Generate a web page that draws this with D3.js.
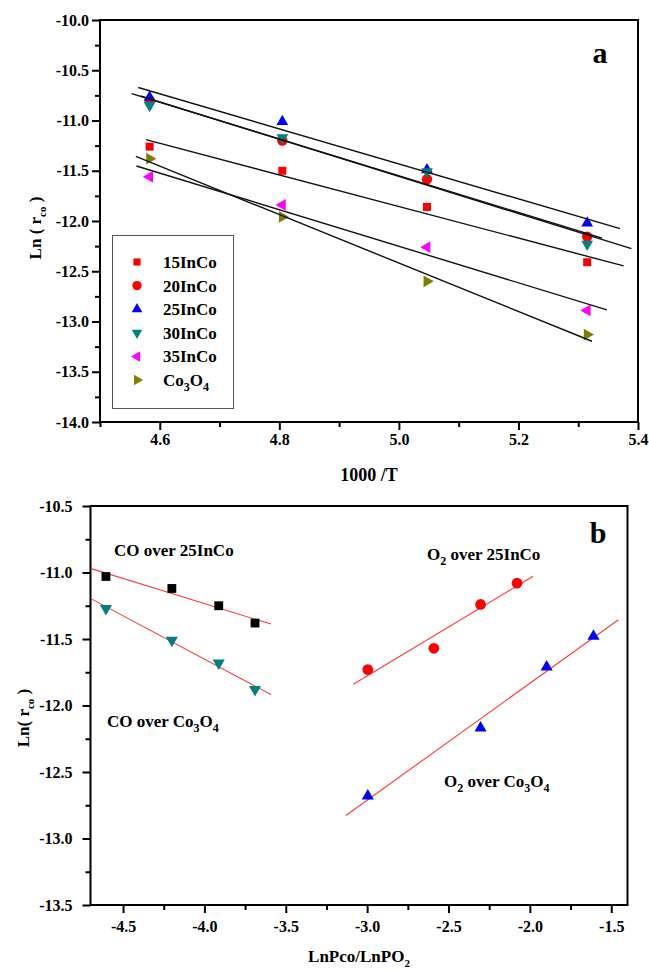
<!DOCTYPE html>
<html>
<head>
<meta charset="utf-8">
<script src="https://cdn.jsdelivr.net/npm/d3@7/dist/d3.min.js"></script>
<style>
  body { margin: 0; background: #fff; }
  text { font-family: "Liberation Serif", "Times New Roman", serif; font-weight: bold; fill: #000; }
</style>
</head>
<body>
<svg id="chart" width="649" height="971"></svg>
<script>
// ---- panel a : Arrhenius plot ----
var invT = [4.583, 4.805, 5.047, 5.315];
var ln15InCo = [-11.26, -11.50, -11.86, -12.41];
var ln20InCo = [-10.80, -11.20, -11.585, -12.155];
var ln25InCo = [-10.77, -11.01, -11.49, -12.02];
var ln30InCo = [-10.85, -11.17, -11.51, -12.23];
var ln35InCo = [-11.56, -11.84, -12.26, -12.89];
var lnCo3O4 = [-11.38, -11.96, -12.60, -13.13];
// x range over which each fit line is drawn
var fitFromA = [4.577, 4.553, 4.564, 4.568, 4.561, 4.560];
var fitToA = [5.376, 5.340, 5.370, 5.389, 5.348, 5.323];
var xTicksA = [4.6, 4.8, 5.0, 5.2, 5.4];
var yTicksA = [-14.0, -13.5, -13.0, -12.5, -12.0, -11.5, -11.0, -10.5, -10.0];

// ---- panel b : reaction orders ----
var lnPco = [-4.605, -4.200, -3.912, -3.689];
var lnPo2In = [-2.996, -2.590, -2.303, -2.079];
var lnPo2Co = [-2.996, -2.303, -1.897, -1.609];
var coOver25InCo = [-11.03, -11.12, -11.25, -11.38];
var coOverCo3O4 = [-11.27, -11.51, -11.68, -11.88];
var o2Over25InCo = [-11.73, -11.57, -11.24, -11.08];
var o2OverCo3O4 = [-12.68, -12.17, -11.71, -11.48];
var fitFromB = [-4.695, -4.695, -3.085, -3.131];
var fitToB = [-3.591, -3.591, -1.980, -1.456];
var xTicksB = [-4.5, -4.0, -3.5, -3.0, -2.5, -2.0, -1.5];
var yTicksB = [-13.5, -13.0, -12.5, -12.0, -11.5, -11.0, -10.5];

var svg = d3.select('#chart');
var fmt = d => d.toFixed(1);

function symbolPath(kind, size) {
  var types = {
    square: [d3.symbolSquare, 0], circle: [d3.symbolCircle, 0],
    up: [d3.symbolTriangle, 0], down: [d3.symbolTriangle, 180],
    left: [d3.symbolTriangle, -90], right: [d3.symbolTriangle, 90]
  };
  return { d: d3.symbol().type(types[kind][0]).size(size)(), rot: types[kind][1] };
}

// text with subscripts; parts = [[str, isSub], ...]
function richText(sel, parts, subSize, shift) {
  var wasSub = false;
  parts.forEach(function(p) {
    var t = sel.append('tspan').text(p[0]);
    if (p[1] && !wasSub) t.attr('dy', shift);
    if (!p[1] && wasSub) t.attr('dy', -shift);
    if (p[1]) t.style('font-size', subSize + 'px');
    wasSub = p[1];
  });
  return sel;
}

function linFit(xs, ys) {
  var mx = d3.mean(xs), my = d3.mean(ys);
  var sxy = d3.sum(xs, (x, i) => (x - mx) * (ys[i] - my));
  var sxx = d3.sum(xs, x => (x - mx) * (x - mx));
  var k = sxy / sxx;
  return x => my + k * (x - mx);
}

function drawFrame(g, x, y, xTicks, yTicks, xMinor, yMinor, opt) {
  var x0 = x.range()[0], x1 = x.range()[1], y0 = y.range()[0], y1 = y.range()[1];
  var ax = g.append('g').attr('transform', `translate(0,${y0})`)
    .call(d3.axisBottom(x).tickValues(xTicks).tickFormat(fmt).tickSize(8).tickPadding(opt.xPad));
  var axm = g.append('g').attr('transform', `translate(0,${y0})`)
    .call(d3.axisBottom(x).tickValues(xMinor).tickFormat('').tickSize(5));
  var ay = g.append('g').attr('transform', `translate(${x0},0)`)
    .call(d3.axisLeft(y).tickValues(yTicks).tickFormat(fmt).tickSize(8).tickPadding(opt.yPad));
  var aym = g.append('g').attr('transform', `translate(${x0},0)`)
    .call(d3.axisLeft(y).tickValues(yMinor).tickFormat('').tickSize(5));
  [ax, axm, ay, aym].forEach(a => {
    a.select('.domain').remove();
    a.selectAll('line').attr('stroke', '#000').attr('stroke-width', 2);
    a.selectAll('text').style('font-size', '16px').attr('fill', '#000');
  });
  g.append('rect').attr('x', x0).attr('y', y1).attr('width', x1 - x0).attr('height', y0 - y1)
    .attr('fill', 'none').attr('stroke', '#000').attr('stroke-width', 2);
}

// ================= panel a =================
var xA = d3.scaleLinear().domain([4.5, 5.4]).range([100, 638]);
var yA = d3.scaleLinear().domain([-14, -10]).range([422, 20]);
var gA = svg.append('g');

var seriesA = [
  { name: [['15InCo', false]], y: ln15InCo, color: '#ff0000', kind: 'square', size: 64 },
  { name: [['20InCo', false]], y: ln20InCo, color: '#ff0000', kind: 'circle', size: 85 },
  { name: [['25InCo', false]], y: ln25InCo, color: '#0000ff', kind: 'up', size: 60 },
  { name: [['30InCo', false]], y: ln30InCo, color: '#008080', kind: 'down', size: 60 },
  { name: [['35InCo', false]], y: ln35InCo, color: '#ff00ff', kind: 'left', size: 60 },
  { name: [['Co', false], ['3', true], ['O', false], ['4', true]], y: lnCo3O4, color: '#808000', kind: 'right', size: 60 }
];

drawFrame(gA, xA, yA, xTicksA, yTicksA,
  [4.5, 4.7, 4.9, 5.1, 5.3], d3.range(-13.75, -10, 0.5), { xPad: 4, yPad: 3 });

seriesA.forEach(function(s) {
  var sym = symbolPath(s.kind, s.size);
  gA.append('g').selectAll('path').data(s.y).join('path')
    .attr('d', sym.d)
    .attr('transform', (v, i) => `translate(${xA(invT[i])},${yA(v)}) rotate(${sym.rot})`)
    .attr('fill', s.color);
});

seriesA.forEach(function(s, i) {
  var f = linFit(invT, s.y);
  gA.append('line')
    .attr('x1', xA(fitFromA[i])).attr('y1', yA(f(fitFromA[i])))
    .attr('x2', xA(fitToA[i])).attr('y2', yA(f(fitToA[i])))
    .attr('stroke', '#111').attr('stroke-width', 1.4);
});

// legend
var leg = gA.append('g');
leg.append('rect').attr('x', 112.5).attr('y', 235.5).attr('width', 121).attr('height', 173)
  .attr('fill', '#fff').attr('stroke', '#555').attr('stroke-width', 1);
seriesA.forEach(function(s, i) {
  var sym = symbolPath(s.kind, s.size * 0.8);
  var yy = 262 + i * 23.6;
  leg.append('path').attr('d', sym.d)
    .attr('transform', `translate(137,${yy}) rotate(${sym.rot})`).attr('fill', s.color);
  richText(leg.append('text').attr('x', 163).attr('y', yy + 6).style('font-size', '17px'), s.name, 12, 5);
});

gA.append('text').attr('x', 600).attr('y', 63).attr('text-anchor', 'middle')
  .style('font-size', '30px').text('a');
gA.append('text').attr('x', (xA.range()[0] + xA.range()[1]) / 2).attr('y', 481)
  .attr('text-anchor', 'middle').style('font-size', '18px').text('1000 /T');
richText(gA.append('text').attr('transform', 'translate(41,228) rotate(-90)')
  .attr('text-anchor', 'middle').style('font-size', '17px'),
  [['Ln ( r', false], ['co', true], [' )', false]], 11, 5);

// ================= panel b =================
var xB = d3.scaleLinear().domain([-4.7, -1.4]).range([90.5, 627.5]);
var yB = d3.scaleLinear().domain([-13.5, -10.5]).range([905, 506]);
var gB = svg.append('g');

drawFrame(gB, xB, yB, xTicksB, yTicksB,
  d3.range(-4.25, -1.4, 0.5), d3.range(-13.25, -10.5, 0.5), { xPad: 8, yPad: 10 });

var seriesB = [
  { x: lnPco, y: coOver25InCo, color: '#000000', kind: 'square', size: 78 },
  { x: lnPco, y: coOverCo3O4, color: '#008080', kind: 'down', size: 64 },
  { x: lnPo2In, y: o2Over25InCo, color: '#ff0000', kind: 'circle', size: 90 },
  { x: lnPo2Co, y: o2OverCo3O4, color: '#0000ff', kind: 'up', size: 64 }
];

seriesB.forEach(function(s, i) {
  var f = linFit(s.x, s.y);
  gB.append('line')
    .attr('x1', xB(fitFromB[i])).attr('y1', yB(f(fitFromB[i])))
    .attr('x2', xB(fitToB[i])).attr('y2', yB(f(fitToB[i])))
    .attr('stroke', '#ff3b3b').attr('stroke-width', 1.1);
  var sym = symbolPath(s.kind, s.size);
  gB.append('g').selectAll('path').data(s.y).join('path')
    .attr('d', sym.d)
    .attr('transform', (v, j) => `translate(${xB(s.x[j])},${yB(v)}) rotate(${sym.rot})`)
    .attr('fill', s.color);
});

var notes = [
  { x: 114, y: 556, parts: [['CO over 25InCo', false]] },
  { x: 427, y: 560, parts: [['O', false], ['2', true], [' over 25InCo', false]] },
  { x: 107, y: 727, parts: [['CO over Co', false], ['3', true], ['O', false], ['4', true]] },
  { x: 444, y: 787, parts: [['O', false], ['2', true], [' over Co', false], ['3', true], ['O', false], ['4', true]] }
];
notes.forEach(function(n) {
  richText(gB.append('text').attr('x', n.x).attr('y', n.y).style('font-size', '17px'), n.parts, 12, 5);
});

gB.append('text').attr('x', 598).attr('y', 543).attr('text-anchor', 'middle')
  .style('font-size', '30px').text('b');
richText(gB.append('text').attr('x', (xB.range()[0] + xB.range()[1]) / 2).attr('y', 962)
  .attr('text-anchor', 'middle').style('font-size', '17px'),
  [['LnPco/LnPO', false], ['2', true]], 11, 5);
richText(gB.append('text').attr('transform', 'translate(29,718) rotate(-90)')
  .attr('text-anchor', 'middle').style('font-size', '17px'),
  [['Ln( r', false], ['co', true], [' )', false]], 11, 5);
</script>
</body>
</html>
